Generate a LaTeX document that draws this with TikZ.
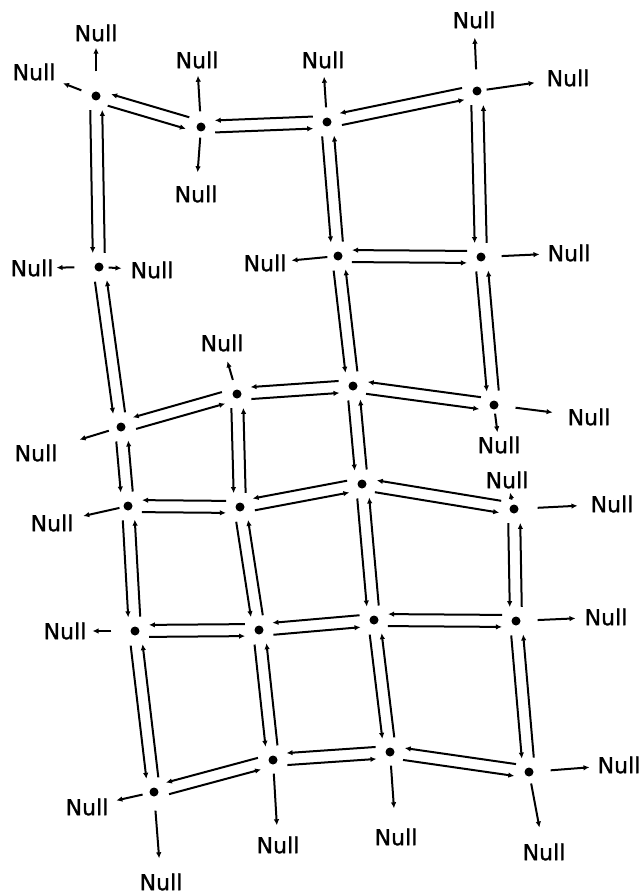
\documentclass[tikz,border=0pt]{standalone}
\usepackage{fontspec}
\setmainfont{DejaVu Sans}
\newfontfamily\nlabelfont{DejaVu Sans}[FakeBold=1.2]
\usetikzlibrary{calc,arrows.meta}
\newcommand\twoway[2]{%
  \draw[edge] ($(#2)!14pt!(#1)!6pt!-90:(#1)$) -- ($(#1)!14pt!(#2)!6pt!90:(#2)$);
  \draw[edge] ($(#1)!14pt!(#2)!6pt!-90:(#2)$) -- ($(#2)!14pt!(#1)!6pt!90:(#1)$);
}
\newcommand\nullto[4]{\draw[narrow,shorten <=#3pt,shorten >=#4pt] (#1) -- (#2);}
\begin{document}
\begin{tikzpicture}[x=1pt,y=-1pt,
  dot/.style={circle,fill=black,inner sep=0pt,minimum size=9pt},
  lbl/.style={inner sep=1pt,font=\nlabelfont\fontsize{22}{26}\selectfont},
  edge/.style={line width=2pt,-{Latex[length=6pt,width=5.5pt]}},
  narrow/.style={line width=2pt,-{Latex[length=6pt,width=5.5pt]}}]
\fill[white] (0,0) rectangle (642,896);
\useasboundingbox (0,0) rectangle (642,896);
% nodes
\node[dot] (A1) at (96,96) {};
\node[dot] (A2) at (201,127) {};
\node[dot] (A3) at (327,122) {};
\node[dot] (A4) at (477,91) {};
\node[dot] (B1) at (99,267) {};
\node[dot] (B3) at (338,256) {};
\node[dot] (B4) at (481,257) {};
\node[dot] (C1) at (121,427) {};
\node[dot] (C2) at (237,394) {};
\node[dot] (C3) at (353,386) {};
\node[dot] (C4) at (494,405) {};
\node[dot] (D1) at (128,506) {};
\node[dot] (D2) at (240,507) {};
\node[dot] (D3) at (362,484) {};
\node[dot] (D4) at (514,509) {};
\node[dot] (E1) at (135,631) {};
\node[dot] (E2) at (259,630) {};
\node[dot] (E3) at (374,620) {};
\node[dot] (E4) at (516,621) {};
\node[dot] (F1) at (154,792) {};
\node[dot] (F2) at (273,760) {};
\node[dot] (F3) at (390,752) {};
\node[dot] (F4) at (529,772) {};
% horizontal double connectors
\twoway{A1}{A2} \twoway{A2}{A3} \twoway{A3}{A4}
\twoway{B3}{B4}
\twoway{C1}{C2} \twoway{C2}{C3} \twoway{C3}{C4}
\twoway{D1}{D2} \twoway{D2}{D3} \twoway{D3}{D4}
\twoway{E1}{E2} \twoway{E2}{E3} \twoway{E3}{E4}
\twoway{F1}{F2} \twoway{F2}{F3} \twoway{F3}{F4}
% vertical double connectors
\twoway{A1}{B1} \twoway{B1}{C1} \twoway{C1}{D1} \twoway{D1}{E1} \twoway{E1}{F1}
\twoway{A3}{B3} \twoway{B3}{C3} \twoway{C3}{D3} \twoway{D3}{E3} \twoway{E3}{F3}
\twoway{A4}{B4} \twoway{B4}{C4}
\twoway{C2}{D2} \twoway{D2}{E2} \twoway{E2}{F2}
\twoway{D4}{E4} \twoway{E4}{F4}
% Null labels
\node[lbl] (nA1t) at (96,33) {Null};
\node[lbl] (nA1l) at (34,72) {Null};
\node[lbl] (nA2t) at (197,60) {Null};
\node[lbl] (nA2b) at (196,194) {Null};
\node[lbl] (nA3t) at (323,60) {Null};
\node[lbl] (nA4t) at (474,20) {Null};
\node[lbl] (nA4r) at (568,78) {Null};
\node[lbl] (nB1l) at (32,268) {Null};
\node[lbl] (nB1r) at (152,270) {Null};
\node[lbl] (nB3l) at (265,263) {Null};
\node[lbl] (nB4r) at (569,253) {Null};
\node[lbl] (nC2t) at (222,343) {Null};
\node[lbl] (nC1l) at (36,453) {Null};
\node[lbl] (nD1l) at (52,523) {Null};
\node[lbl] (nC4r) at (589,417) {Null};
\node[lbl] (nC4b) at (499,445) {Null};
\node[lbl] (nD4t) at (507,480) {Null};
\node[lbl] (nD4r) at (612,504) {Null};
\node[lbl] (nE1l) at (65,631) {Null};
\node[lbl] (nE4r) at (606,617) {Null};
\node[lbl] (nF1l) at (87,807) {Null};
\node[lbl] (nF1b) at (161,882) {Null};
\node[lbl] (nF2b) at (278,845) {Null};
\node[lbl] (nF3b) at (396,837) {Null};
\node[lbl] (nF4r) at (619,765) {Null};
\node[lbl] (nF4b) at (544,852) {Null};
% Null arrows
\nullto{A1}{nA1t}{20}{5}
\nullto{A1}{nA1l}{11}{7}
\nullto{A2}{nA2t}{11}{6}
\nullto{A2}{nA2b}{6}{12}
\nullto{A3}{nA3t}{10}{7}
\nullto{A4}{nA4t}{17}{8}
\nullto{A4}{nA4r}{5}{11}
\nullto{B1}{nB1l}{20}{2}
\nullto{B1}{nB1r}{5}{8}
\nullto{B3}{nB3l}{6}{4}
\nullto{B4}{nB4r}{16}{7}
\nullto{C2}{nC2t}{10}{9}
\nullto{C1}{nC1l}{8}{22}
\nullto{D1}{nD1l}{4}{9}
\nullto{C4}{nC4r}{17}{14}
\nullto{C4}{nC4b}{4}{3}
\nullto{D4}{nD4t}{5}{3}
\nullto{D4}{nD4r}{19}{12}
\nullto{E1}{nE1l}{19}{5}
\nullto{E4}{nE4r}{17}{8}
\nullto{F1}{nF1l}{7}{7}
\nullto{F1}{nF1b}{14}{14}
\nullto{F2}{nF2b}{9}{10}
\nullto{F3}{nF3b}{9}{19}
\nullto{F4}{nF4r}{17}{7}
\nullto{F4}{nF4b}{7}{15}
\end{tikzpicture}
\end{document}
